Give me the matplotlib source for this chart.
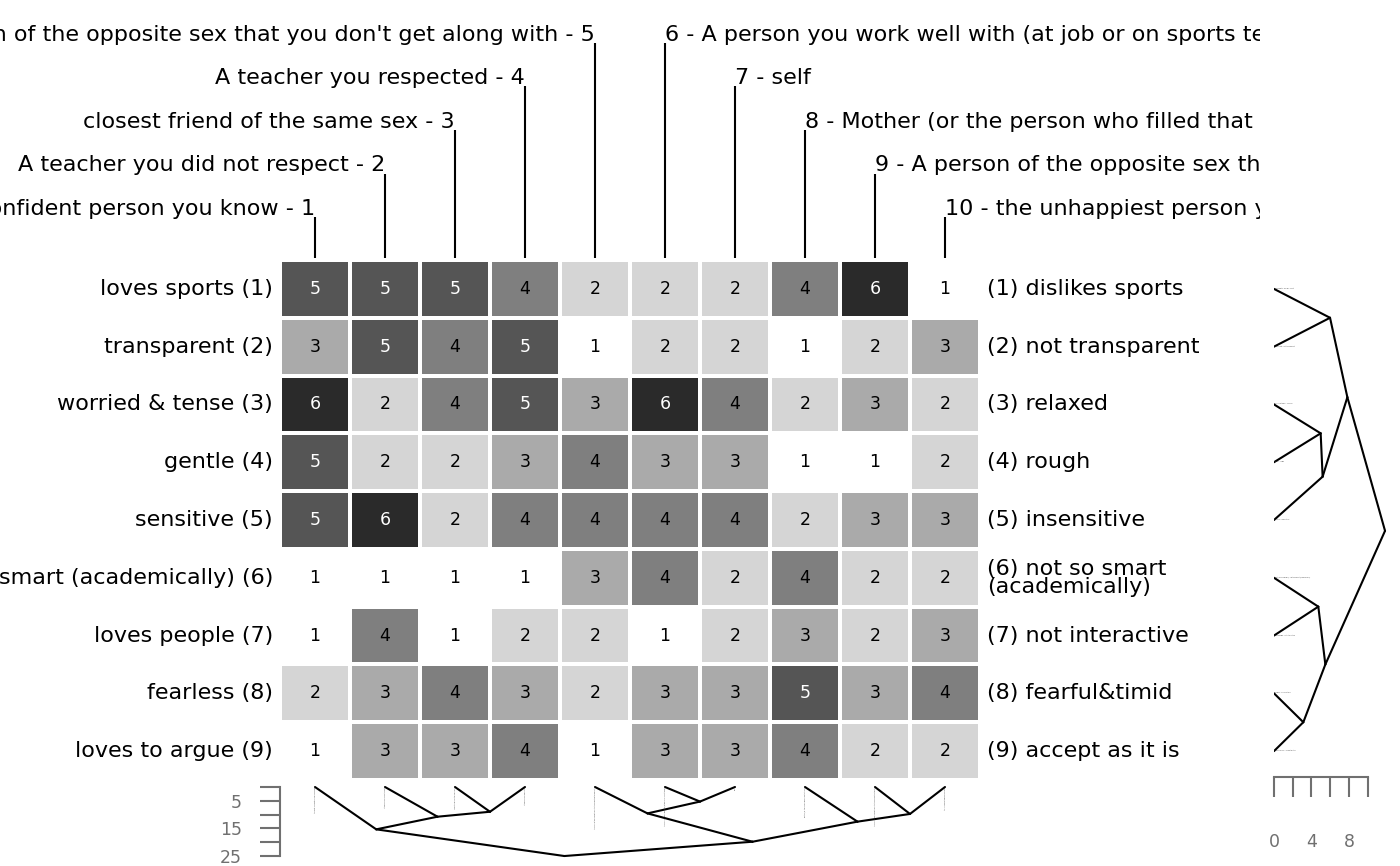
import numpy as np
import matplotlib
matplotlib.use("Agg")
import matplotlib.pyplot as plt
from matplotlib.colors import LinearSegmentedColormap
from matplotlib.ticker import FixedLocator, NullFormatter

# ---------------- data ----------------
left_poles = ["loves sports", "transparent", "worried & tense", "gentle", "sensitive",
              "smart (academically)", "loves people", "fearless", "loves to argue"]
right_poles = ["dislikes sports", "not transparent", "relaxed", "rough", "insensitive",
               "not so smart\n(academically)", "not interactive", "fearful&timid",
               "accept as it is"]
elements = ["the most confident person you know",
            "A teacher you did not respect",
            "closest friend of the same sex",
            "A teacher you respected",
            "A person of the opposite sex that you don't get along with",
            "A person you work well with (at job or on sports team)",
            "self",
            "Mother (or the person who filled that role)",
            "A person of the opposite sex that you are attracted to",
            "the unhappiest person you know"]
ratings = [
    [5, 5, 5, 4, 2, 2, 2, 4, 6, 1],
    [3, 5, 4, 5, 1, 2, 2, 1, 2, 3],
    [6, 2, 4, 5, 3, 6, 4, 2, 3, 2],
    [5, 2, 2, 3, 4, 3, 3, 1, 1, 2],
    [5, 6, 2, 4, 4, 4, 4, 2, 3, 3],
    [1, 1, 1, 1, 3, 4, 2, 4, 2, 2],
    [1, 4, 1, 2, 2, 1, 2, 3, 2, 3],
    [2, 3, 4, 3, 2, 3, 3, 5, 3, 4],
    [1, 3, 3, 4, 1, 3, 3, 4, 2, 2],
]
scale_min, scale_max = 1, 7

# construct (row) clustering: merges of leaves 0..8, new nodes numbered 9, 10, ...
row_merges = [(0, 1), (2, 3), (10, 4), (9, 11), (5, 6), (7, 8), (13, 14), (12, 15)]
row_heights = [5.98, 4.98, 5.19, 7.83, 4.73, 3.13, 5.48, 11.85]
row_axis_major = [0, 4, 8]
row_axis_minor = [2, 6, 10]

# element (column) clustering: merges of leaves 0..9, new nodes numbered 10, 11, ...
col_merges = [(2, 3), (1, 10), (0, 11), (5, 6), (4, 13), (8, 9), (7, 15), (14, 16), (12, 17)]
col_heights = [9.0, 10.8, 15.4, 5.3, 9.6, 9.8, 12.6, 19.9, 25.1]
col_axis_major = [5, 15, 25]
col_axis_minor = [0, 10, 20]

# ---------------- figure ----------------
W, H = 1400, 866
fig = plt.figure(figsize=(W / 100, H / 100), dpi=100)
plt.rcParams['font.family'] = ['DejaVu Sans']
AXIS_GRAY = '#707070'


def ax_px(x0, y0, x1, y1):
    return fig.add_axes([x0 / W, 1 - y1 / H, (x1 - x0) / W, (y1 - y0) / H])


def tree_coords(n, merges, heights):
    pos = [i + 0.5 for i in range(n)]
    hts = [0.0] * n
    for (a, b), h in zip(merges, heights):
        pos.append((pos[a] + pos[b]) / 2)
        hts.append(h)
    return pos, hts


data = np.array(ratings, dtype=float)
nrow, ncol = data.shape
cmap = LinearSegmentedColormap.from_list('grey', ['white', 'black'])

# ---- heatmap ----
ax = ax_px(280, 260, 980, 780)
ax.pcolormesh(np.arange(ncol + 1), np.arange(nrow + 1), data, cmap=cmap,
              vmin=scale_min, vmax=scale_max, edgecolors='white', linewidth=1.6)
ax.set_xlim(0, ncol)
ax.set_ylim(nrow, 0)
ax.axis('off')
for i in range(nrow):
    for j in range(ncol):
        v = ratings[i][j]
        ax.text(j + 0.5, i + 0.5, str(v), ha='center', va='center', fontsize=12.5,
                color='white' if v >= 5 else 'black')
    ax.text(-0.1, i + 0.5, f"{left_poles[i]} ({i + 1})", ha='right', va='center',
            fontsize=16, clip_on=False)
    ax.text(10.1, i + 0.5, f"({i + 1}) {right_poles[i]}", ha='left', va='center',
            fontsize=16, linespacing=0.9, clip_on=False)

# ---- top element labels ----
axt = ax_px(0, 0, 1260, 260)
axt.set_xlim(-4, 14)
level_px = 43.6
axt.set_ylim(0, 260 / level_px)
axt.axis('off')
for j, name in enumerate(elements):
    if j < ncol // 2:
        level = j + 1
        txt, ha = f"{name} - {j + 1}", 'right'
    else:
        level = ncol - j
        txt, ha = f"{j + 1} - {name}", 'left'
    axt.text(j + 0.5, level + 0.03, txt, ha=ha, va='baseline', fontsize=16, clip_on=True)
    axt.plot([j + 0.5, j + 0.5], [level - 0.02, 0.04], color='black', lw=1.5,
             solid_capstyle='butt')

# ---- right dendrogram (constructs) ----
axr = ax_px(1274, 260, 1400, 780)
pos, hts = tree_coords(nrow, row_merges, row_heights)
for k, (a, b) in enumerate(row_merges):
    node = nrow + k
    for c in (a, b):
        axr.plot([hts[node], hts[c]], [pos[node], pos[c]], color='black', lw=1.5,
                 solid_capstyle='round')
for i in range(nrow):
    axr.text(0.05, pos[i], f"{left_poles[i]} - {right_poles[i].replace(chr(10), ' ')}",
             fontsize=0.7, ha='left', va='bottom', color='#333333')
axr.set_xlim(0, 126 / 9.37)
axr.set_ylim(nrow, 0)
for s in ('top', 'left', 'right'):
    axr.spines[s].set_visible(False)
axr.spines['bottom'].set_bounds(0, 10)
axr.spines['bottom'].set_color(AXIS_GRAY)
axr.spines['bottom'].set_linewidth(1.5)
axr.spines['bottom'].set_position(('outward', -2))
axr.set_yticks([])
axr.xaxis.set_major_locator(FixedLocator(row_axis_major))
axr.xaxis.set_minor_locator(FixedLocator(row_axis_minor))
axr.xaxis.set_minor_formatter(NullFormatter())
axr.tick_params(axis='x', which='both', direction='out', length=14.4, width=1.5,
                color=AXIS_GRAY, labelcolor=AXIS_GRAY, labelsize=12.5, pad=26)
axr.patch.set_alpha(0)

# ---- bottom dendrogram (elements) ----
axb = ax_px(280, 787, 980, 866)
pos, hts = tree_coords(ncol, col_merges, col_heights)
for k, (a, b) in enumerate(col_merges):
    node = ncol + k
    for c in (a, b):
        axb.plot([pos[node], pos[c]], [hts[node], hts[c]], color='black', lw=1.5,
                 solid_capstyle='round', clip_on=False)
for j in range(ncol):
    axb.text(pos[j], 0.1, elements[j], rotation=90, fontsize=0.7, ha='center', va='top',
             color='#333333')
axb.set_xlim(0, ncol)
axb.set_ylim(79 / 2.75, 0)
for s in ('top', 'bottom', 'right'):
    axb.spines[s].set_visible(False)
axb.spines['left'].set_bounds(0, 25)
axb.spines['left'].set_color(AXIS_GRAY)
axb.spines['left'].set_linewidth(1.5)
axb.set_xticks([])
axb.yaxis.set_major_locator(FixedLocator(col_axis_major))
axb.yaxis.set_minor_locator(FixedLocator(col_axis_minor))
axb.yaxis.set_minor_formatter(NullFormatter())
axb.tick_params(axis='y', which='both', direction='out', length=14.4, width=1.5,
                color=AXIS_GRAY, labelcolor=AXIS_GRAY, labelsize=12.5, pad=13)
axb.patch.set_alpha(0)

fig.savefig('out.png', dpi=100)
